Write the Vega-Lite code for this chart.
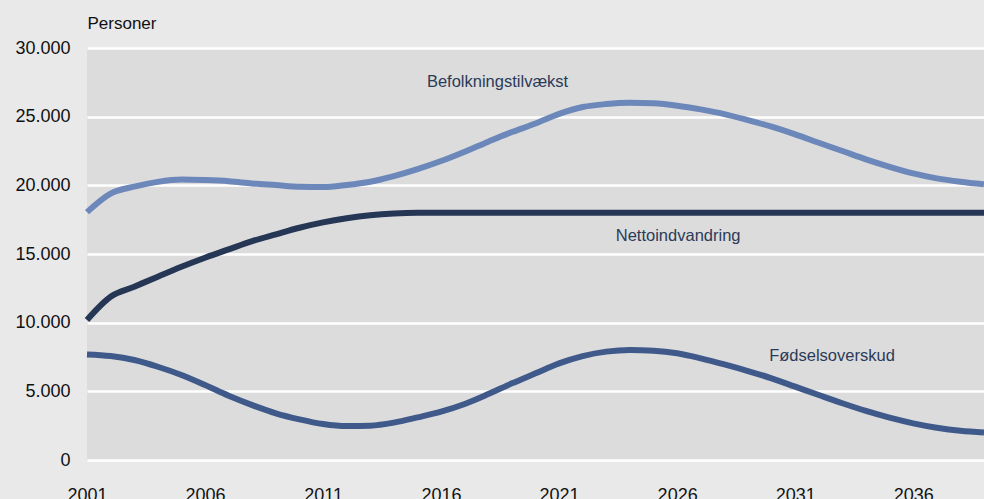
{
  "$schema": "https://vega.github.io/schema/vega-lite/v6.json",
  "width": 897,
  "height": 412,
  "autosize": {"type": "none"},
  "padding": {"left": 87, "top": 48, "right": 0, "bottom": 39},
  "background": "#e9e9e9",
  "config": {
    "view": {"fill": "#dcdcdc", "stroke": null},
    "font": "Liberation Sans"
  },
  "datasets": {
    "series": [
      {"year": 2001, "serie": "Befolkningstilvækst", "value": 18050},
      {"year": 2002, "serie": "Befolkningstilvækst", "value": 19400},
      {"year": 2003, "serie": "Befolkningstilvækst", "value": 19900},
      {"year": 2004, "serie": "Befolkningstilvækst", "value": 20250},
      {"year": 2005, "serie": "Befolkningstilvækst", "value": 20420},
      {"year": 2006, "serie": "Befolkningstilvækst", "value": 20380},
      {"year": 2007, "serie": "Befolkningstilvækst", "value": 20300},
      {"year": 2008, "serie": "Befolkningstilvækst", "value": 20140},
      {"year": 2009, "serie": "Befolkningstilvækst", "value": 20020},
      {"year": 2010, "serie": "Befolkningstilvækst", "value": 19900},
      {"year": 2011, "serie": "Befolkningstilvækst", "value": 19870},
      {"year": 2012, "serie": "Befolkningstilvækst", "value": 20020},
      {"year": 2013, "serie": "Befolkningstilvækst", "value": 20260},
      {"year": 2014, "serie": "Befolkningstilvækst", "value": 20670},
      {"year": 2015, "serie": "Befolkningstilvækst", "value": 21180},
      {"year": 2016, "serie": "Befolkningstilvækst", "value": 21770},
      {"year": 2017, "serie": "Befolkningstilvækst", "value": 22450},
      {"year": 2018, "serie": "Befolkningstilvækst", "value": 23180},
      {"year": 2019, "serie": "Befolkningstilvækst", "value": 23880},
      {"year": 2020, "serie": "Befolkningstilvækst", "value": 24500},
      {"year": 2021, "serie": "Befolkningstilvækst", "value": 25200},
      {"year": 2022, "serie": "Befolkningstilvækst", "value": 25700},
      {"year": 2023, "serie": "Befolkningstilvækst", "value": 25920},
      {"year": 2024, "serie": "Befolkningstilvækst", "value": 26010},
      {"year": 2025, "serie": "Befolkningstilvækst", "value": 25970},
      {"year": 2026, "serie": "Befolkningstilvækst", "value": 25800},
      {"year": 2027, "serie": "Befolkningstilvækst", "value": 25530},
      {"year": 2028, "serie": "Befolkningstilvækst", "value": 25190},
      {"year": 2029, "serie": "Befolkningstilvækst", "value": 24750},
      {"year": 2030, "serie": "Befolkningstilvækst", "value": 24270},
      {"year": 2031, "serie": "Befolkningstilvækst", "value": 23710},
      {"year": 2032, "serie": "Befolkningstilvækst", "value": 23100},
      {"year": 2033, "serie": "Befolkningstilvækst", "value": 22500},
      {"year": 2034, "serie": "Befolkningstilvækst", "value": 21890},
      {"year": 2035, "serie": "Befolkningstilvækst", "value": 21350},
      {"year": 2036, "serie": "Befolkningstilvækst", "value": 20870},
      {"year": 2037, "serie": "Befolkningstilvækst", "value": 20510},
      {"year": 2038, "serie": "Befolkningstilvækst", "value": 20260},
      {"year": 2039, "serie": "Befolkningstilvækst", "value": 20070},
      {"year": 2001, "serie": "Nettoindvandring", "value": 10200},
      {"year": 2002, "serie": "Nettoindvandring", "value": 11890},
      {"year": 2003, "serie": "Nettoindvandring", "value": 12620},
      {"year": 2004, "serie": "Nettoindvandring", "value": 13350},
      {"year": 2005, "serie": "Nettoindvandring", "value": 14070},
      {"year": 2006, "serie": "Nettoindvandring", "value": 14730},
      {"year": 2007, "serie": "Nettoindvandring", "value": 15340},
      {"year": 2008, "serie": "Nettoindvandring", "value": 15940},
      {"year": 2009, "serie": "Nettoindvandring", "value": 16430},
      {"year": 2010, "serie": "Nettoindvandring", "value": 16910},
      {"year": 2011, "serie": "Nettoindvandring", "value": 17300},
      {"year": 2012, "serie": "Nettoindvandring", "value": 17600},
      {"year": 2013, "serie": "Nettoindvandring", "value": 17820},
      {"year": 2014, "serie": "Nettoindvandring", "value": 17950},
      {"year": 2015, "serie": "Nettoindvandring", "value": 18000},
      {"year": 2016, "serie": "Nettoindvandring", "value": 18000},
      {"year": 2017, "serie": "Nettoindvandring", "value": 18000},
      {"year": 2018, "serie": "Nettoindvandring", "value": 18000},
      {"year": 2019, "serie": "Nettoindvandring", "value": 18000},
      {"year": 2020, "serie": "Nettoindvandring", "value": 18000},
      {"year": 2021, "serie": "Nettoindvandring", "value": 18000},
      {"year": 2022, "serie": "Nettoindvandring", "value": 18000},
      {"year": 2023, "serie": "Nettoindvandring", "value": 18000},
      {"year": 2024, "serie": "Nettoindvandring", "value": 18000},
      {"year": 2025, "serie": "Nettoindvandring", "value": 18000},
      {"year": 2026, "serie": "Nettoindvandring", "value": 18000},
      {"year": 2027, "serie": "Nettoindvandring", "value": 18000},
      {"year": 2028, "serie": "Nettoindvandring", "value": 18000},
      {"year": 2029, "serie": "Nettoindvandring", "value": 18000},
      {"year": 2030, "serie": "Nettoindvandring", "value": 18000},
      {"year": 2031, "serie": "Nettoindvandring", "value": 18000},
      {"year": 2032, "serie": "Nettoindvandring", "value": 18000},
      {"year": 2033, "serie": "Nettoindvandring", "value": 18000},
      {"year": 2034, "serie": "Nettoindvandring", "value": 18000},
      {"year": 2035, "serie": "Nettoindvandring", "value": 18000},
      {"year": 2036, "serie": "Nettoindvandring", "value": 18000},
      {"year": 2037, "serie": "Nettoindvandring", "value": 18000},
      {"year": 2038, "serie": "Nettoindvandring", "value": 18000},
      {"year": 2039, "serie": "Nettoindvandring", "value": 18000},
      {"year": 2001, "serie": "Fødselsoverskud", "value": 7690},
      {"year": 2002, "serie": "Fødselsoverskud", "value": 7570},
      {"year": 2003, "serie": "Fødselsoverskud", "value": 7280},
      {"year": 2004, "serie": "Fødselsoverskud", "value": 6790},
      {"year": 2005, "serie": "Fødselsoverskud", "value": 6190},
      {"year": 2006, "serie": "Fødselsoverskud", "value": 5460},
      {"year": 2007, "serie": "Fødselsoverskud", "value": 4680},
      {"year": 2008, "serie": "Fødselsoverskud", "value": 4000},
      {"year": 2009, "serie": "Fødselsoverskud", "value": 3400},
      {"year": 2010, "serie": "Fødselsoverskud", "value": 2960},
      {"year": 2011, "serie": "Fødselsoverskud", "value": 2620},
      {"year": 2012, "serie": "Fødselsoverskud", "value": 2470},
      {"year": 2013, "serie": "Fødselsoverskud", "value": 2500},
      {"year": 2014, "serie": "Fødselsoverskud", "value": 2720},
      {"year": 2015, "serie": "Fødselsoverskud", "value": 3100},
      {"year": 2016, "serie": "Fødselsoverskud", "value": 3520},
      {"year": 2017, "serie": "Fødselsoverskud", "value": 4080},
      {"year": 2018, "serie": "Fødselsoverskud", "value": 4800},
      {"year": 2019, "serie": "Fødselsoverskud", "value": 5580},
      {"year": 2020, "serie": "Fødselsoverskud", "value": 6310},
      {"year": 2021, "serie": "Fødselsoverskud", "value": 7040},
      {"year": 2022, "serie": "Fødselsoverskud", "value": 7570},
      {"year": 2023, "serie": "Fødselsoverskud", "value": 7890},
      {"year": 2024, "serie": "Fødselsoverskud", "value": 8010},
      {"year": 2025, "serie": "Fødselsoverskud", "value": 7960},
      {"year": 2026, "serie": "Fødselsoverskud", "value": 7770},
      {"year": 2027, "serie": "Fødselsoverskud", "value": 7400},
      {"year": 2028, "serie": "Fødselsoverskud", "value": 6960},
      {"year": 2029, "serie": "Fødselsoverskud", "value": 6480},
      {"year": 2030, "serie": "Fødselsoverskud", "value": 5950},
      {"year": 2031, "serie": "Fødselsoverskud", "value": 5340},
      {"year": 2032, "serie": "Fødselsoverskud", "value": 4730},
      {"year": 2033, "serie": "Fødselsoverskud", "value": 4130},
      {"year": 2034, "serie": "Fødselsoverskud", "value": 3570},
      {"year": 2035, "serie": "Fødselsoverskud", "value": 3080},
      {"year": 2036, "serie": "Fødselsoverskud", "value": 2670},
      {"year": 2037, "serie": "Fødselsoverskud", "value": 2350},
      {"year": 2038, "serie": "Fødselsoverskud", "value": 2130},
      {"year": 2039, "serie": "Fødselsoverskud", "value": 2010}
    ],
    "labels": [
      {"year": 2015.4, "value": 27520, "text": "Befolkningstilvækst"},
      {"year": 2023.4, "value": 16310, "text": "Nettoindvandring"},
      {"year": 2029.9, "value": 7570, "text": "Fødselsoverskud"}
    ]
  },
  "encoding": {
    "x": {
      "field": "year",
      "type": "quantitative",
      "scale": {"domain": [2001, 2039], "nice": false, "zero": false},
      "axis": {
        "title": null,
        "values": [2001, 2006, 2011, 2016, 2021, 2026, 2031, 2036],
        "format": "d",
        "grid": false,
        "domain": false,
        "ticks": false,
        "labelPadding": 26,
        "labelFontSize": 18,
        "labelColor": "#111111",
        "labelFlush": false,
        "labelBaseline": "top"
      }
    },
    "y": {
      "field": "value",
      "type": "quantitative",
      "scale": {"domain": [0, 30000], "nice": false},
      "axis": {
        "title": "Personer",
        "titleAngle": 0,
        "titleAlign": "left",
        "titleX": 0,
        "titleY": -16,
        "titleFontSize": 17,
        "titleFontWeight": "normal",
        "titleColor": "#111111",
        "values": [0, 5000, 10000, 15000, 20000, 25000, 30000],
        "labelExpr": "replace(format(datum.value, ','), ',', '.')",
        "labelFontSize": 18,
        "labelColor": "#111111",
        "labelPadding": 17,
        "domain": false,
        "ticks": false,
        "grid": true,
        "gridColor": "#ffffff",
        "gridWidth": 2.5,
        "gridOpacity": 1
      }
    }
  },
  "layer": [
    {
      "data": {"name": "series"},
      "mark": {"type": "line", "strokeWidth": 6, "interpolate": "monotone"},
      "encoding": {
        "color": {
          "field": "serie",
          "type": "nominal",
          "scale": {
            "domain": ["Befolkningstilvækst", "Nettoindvandring", "Fødselsoverskud"],
            "range": ["#6c88ba", "#263655", "#3f5a8a"]
          },
          "legend": null
        }
      }
    },
    {
      "data": {"name": "labels"},
      "mark": {"type": "text", "align": "left", "baseline": "middle", "fontSize": 16.5, "color": "#2b3a58"},
      "encoding": {"text": {"field": "text"}}
    }
  ]
}
